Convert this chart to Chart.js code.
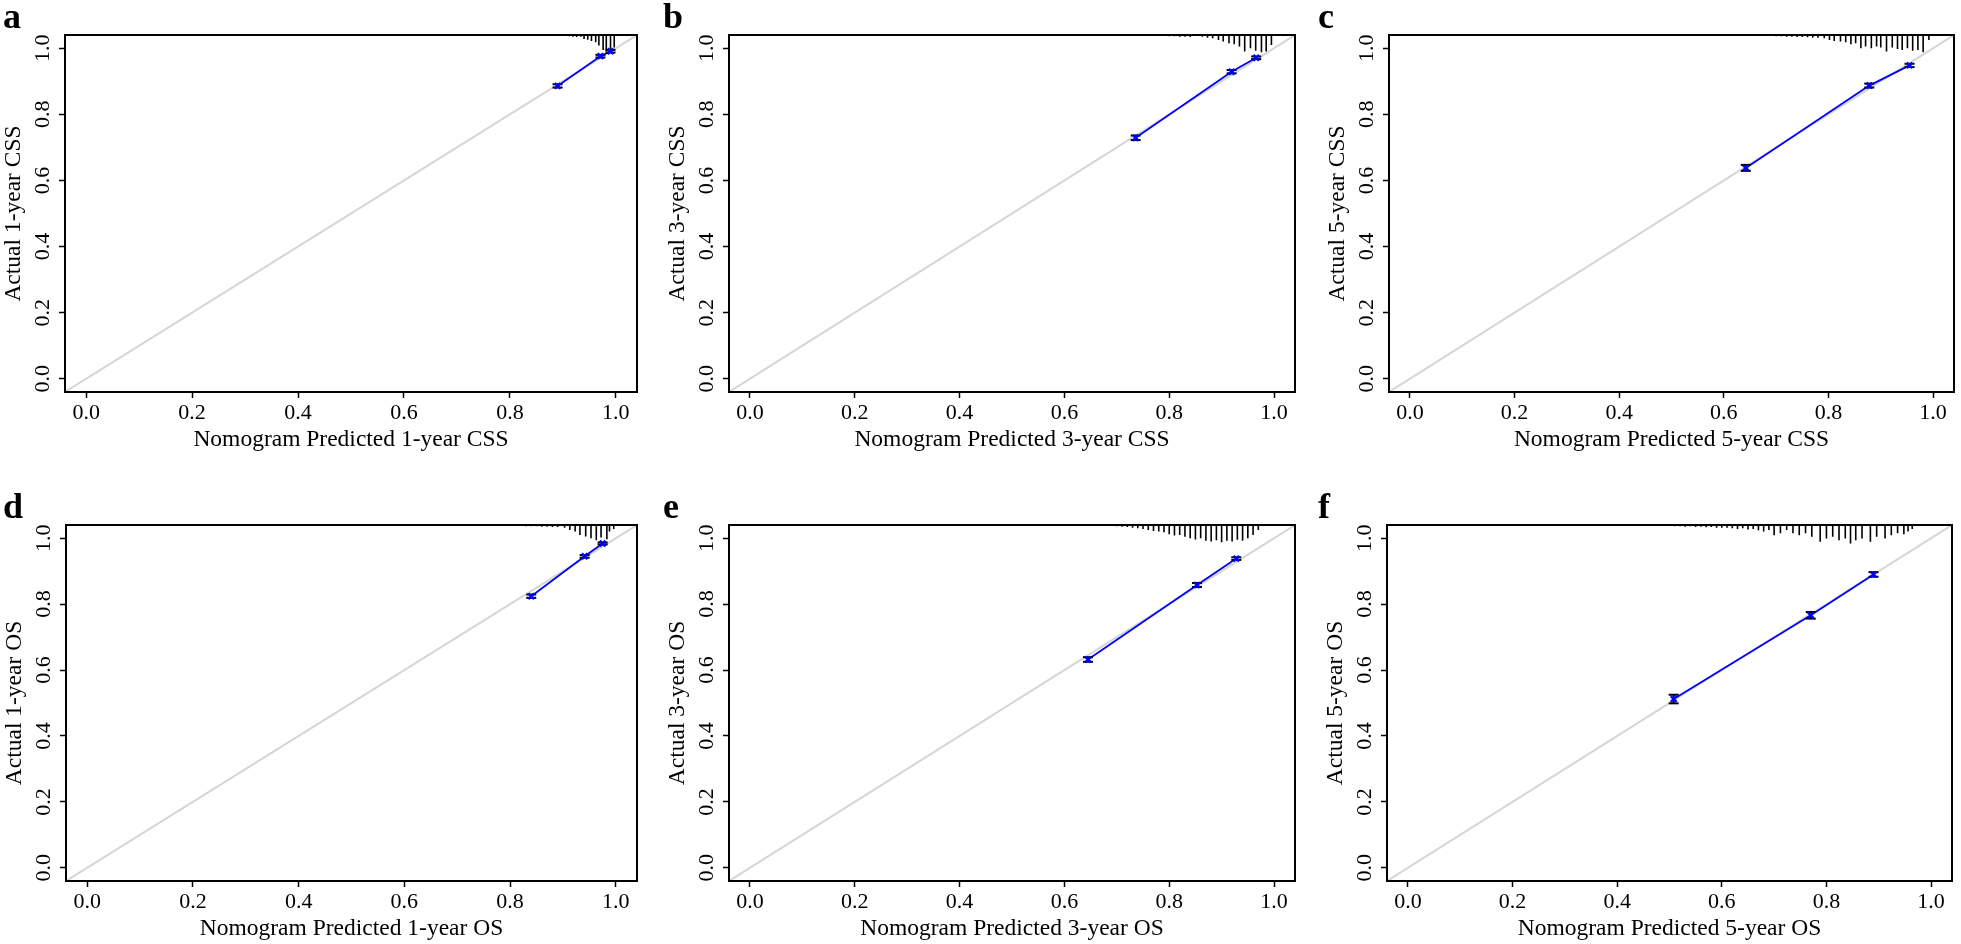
<!DOCTYPE html>
<html>
<head>
<meta charset="utf-8">
<script src="https://cdn.jsdelivr.net/npm/chart.js@4.4.1/dist/chart.umd.min.js"></script>
<style>
  html, body { margin: 0; padding: 0; background: #fff; }
  body { width: 1961px; height: 944px; position: relative; overflow: hidden;
         font-family: "Liberation Serif", "Times New Roman", serif; }
  canvas { position: absolute; }
  .tag { position: absolute; font-weight: bold; font-size: 36px; line-height: 36px; color: #000; }
</style>
</head>
<body>
<script>
// axis
const tickValues = [0.0, 0.2, 0.4, 0.6, 0.8, 1.0];
const axisRange = [-0.04, 1.04];
const panelLetters = ['a', 'b', 'c', 'd', 'e', 'f'];
const xTitles = ['Nomogram Predicted 1-year CSS', 'Nomogram Predicted 3-year CSS', 'Nomogram Predicted 5-year CSS',
                 'Nomogram Predicted 1-year OS', 'Nomogram Predicted 3-year OS', 'Nomogram Predicted 5-year OS'];
const yTitles = ['Actual 1-year CSS', 'Actual 3-year CSS', 'Actual 5-year CSS',
                 'Actual 1-year OS', 'Actual 3-year OS', 'Actual 5-year OS'];

// calibration points (predicted, observed, half error bar)
const predA = [0.890, 0.971, 0.990];
const actualA = [0.886, 0.976, 0.991];
const errA = [0.005, 0.004, 0.004];

const predB = [0.736, 0.919, 0.966];
const actualB = [0.729, 0.929, 0.971];
const errB = [0.007, 0.005, 0.004];

const predC = [0.642, 0.878, 0.955];
const actualC = [0.638, 0.887, 0.948];
const errC = [0.009, 0.006, 0.005];

const predD = [0.840, 0.941, 0.975];
const actualD = [0.824, 0.945, 0.984];
const errD = [0.005, 0.004, 0.003];

const predE = [0.645, 0.853, 0.928];
const actualE = [0.632, 0.858, 0.938];
const errE = [0.007, 0.006, 0.004];

const predF = [0.508, 0.770, 0.890];
const actualF = [0.512, 0.766, 0.890];
const errF = [0.013, 0.010, 0.007];

// spike histogram along the top (position, length)
const rugXA = [0.876,0.884,0.890,0.897,0.904,0.912,0.919,0.926,0.934,0.940,0.947,0.954,0.962,0.968,0.976,0.982,0.990,0.997];
const rugLenA = [0.002,0.002,0.003,0.003,0.003,0.004,0.005,0.006,0.005,0.012,0.014,0.018,0.022,0.032,0.045,0.050,0.048,0.038];

const rugXB = [0.50,0.51,0.52,0.53,0.54,0.55,0.56,0.57,0.58,0.59,0.60,0.61,0.62,0.63,0.64,0.65,0.66,0.67,0.68,0.69,
               0.70,0.71,0.72,0.73,0.74,0.75,0.76,0.77,0.78,0.79,0.80,0.81,0.82,0.83,0.84,
               0.851,0.863,0.873,0.883,0.894,0.903,0.914,0.924,0.934,0.944,0.955,0.965,0.976,0.985,0.995];
const rugLenB = [0.002,0.002,0.002,0.002,0.002,0.002,0.002,0.002,0.002,0.002,0.002,0.002,0.002,0.002,0.002,0.002,0.002,0.002,0.002,0.002,
                 0.003,0.003,0.003,0.003,0.003,0.003,0.003,0.003,0.003,0.003,0.004,0.004,0.005,0.005,0.006,
                 0.003,0.005,0.008,0.010,0.015,0.020,0.025,0.028,0.035,0.050,0.040,0.048,0.052,0.050,0.030];

const rugXC = [0.40,0.41,0.42,0.43,0.44,0.45,0.46,0.47,0.48,0.49,0.50,0.51,0.52,0.53,0.54,0.55,0.56,0.57,0.58,0.59,
               0.60,0.61,0.62,0.63,0.64,0.65,0.66,0.67,0.68,0.69,0.70,0.71,0.72,0.73,0.74,0.75,0.76,0.77,0.78,
               0.792,0.802,0.811,0.823,0.833,0.843,0.852,0.862,0.871,0.882,0.892,0.900,0.911,0.922,0.932,0.941,0.951,0.961,0.971,0.981,0.992];
const rugLenC = [0.002,0.002,0.002,0.002,0.002,0.002,0.002,0.002,0.002,0.002,0.002,0.002,0.002,0.002,0.002,0.002,0.002,0.002,0.002,0.002,
                 0.003,0.003,0.003,0.003,0.003,0.003,0.003,0.003,0.003,0.003,0.004,0.004,0.005,0.005,0.006,0.006,0.007,0.008,0.008,
                 0.010,0.015,0.018,0.020,0.022,0.028,0.025,0.040,0.035,0.040,0.035,0.038,0.050,0.038,0.042,0.045,0.040,0.048,0.045,0.052,0.015];

const rugXD = [0.80,0.81,0.82,0.83,0.84,0.85,0.86,0.87,0.88,0.89,
               0.903,0.913,0.923,0.932,0.943,0.953,0.963,0.972,0.983,0.988,0.996];
const rugLenD = [0.003,0.003,0.003,0.004,0.004,0.004,0.005,0.005,0.006,0.006,
                 0.008,0.015,0.020,0.030,0.035,0.040,0.046,0.038,0.043,0.020,0.012];

const rugXE = [0.45,0.46,0.47,0.48,0.49,0.50,0.51,0.52,0.53,0.54,0.55,0.56,0.57,0.58,0.59,0.60,0.61,0.62,0.63,0.64,
               0.65,0.66,0.67,0.68,0.69,0.70,0.71,0.72,0.73,0.74,0.75,0.76,0.77,0.78,0.79,0.80,0.81,0.82,0.83,0.84,
               0.85,0.86,0.87,0.88,0.89,0.90,0.91,0.92,0.93,0.94,0.95,0.96,0.97];
const rugLenE = [0.002,0.002,0.002,0.002,0.002,0.002,0.002,0.002,0.002,0.002,0.002,0.002,0.002,0.002,0.002,0.003,0.003,0.003,0.003,0.003,
                 0.003,0.003,0.003,0.003,0.003,0.004,0.005,0.006,0.008,0.010,0.012,0.015,0.018,0.020,0.022,0.028,0.032,0.030,0.036,0.040,
                 0.044,0.040,0.048,0.050,0.046,0.052,0.048,0.050,0.045,0.048,0.040,0.030,0.015];

const rugXF = [0.02,0.04,0.06,0.08,0.10,0.12,0.14,0.16,0.18,0.20,0.22,0.24,0.26,0.28,0.30,0.32,0.34,0.36,0.38,0.40,
               0.42,0.44,0.46,0.48,0.50,0.51,0.52,0.53,0.54,0.55,0.56,0.57,0.58,0.59,0.60,
               0.61,0.62,0.63,0.64,0.65,0.66,0.67,0.68,0.69,
               0.700,0.712,0.724,0.736,0.748,0.760,0.772,0.788,0.800,0.812,0.824,0.836,0.846,0.856,0.868,0.884,
               0.896,0.912,0.924,0.936,0.948,0.956,0.964];
const rugLenF = [0.002,0.002,0.002,0.002,0.002,0.002,0.002,0.002,0.002,0.002,0.002,0.002,0.002,0.002,0.002,0.002,0.002,0.002,0.002,0.002,
                 0.002,0.002,0.003,0.003,0.003,0.004,0.004,0.005,0.004,0.006,0.005,0.007,0.006,0.008,0.008,
                 0.008,0.010,0.012,0.010,0.014,0.012,0.016,0.020,0.015,
                 0.031,0.025,0.015,0.025,0.031,0.025,0.036,0.051,0.041,0.036,0.046,0.041,0.056,0.046,0.041,0.051,
                 0.036,0.041,0.031,0.025,0.028,0.020,0.012];

const panels = [
  {pred: predA, actual: actualA, err: errA, rugX: rugXA, rugLen: rugLenA},
  {pred: predB, actual: actualB, err: errB, rugX: rugXB, rugLen: rugLenB},
  {pred: predC, actual: actualC, err: errC, rugX: rugXC, rugLen: rugLenC},
  {pred: predD, actual: actualD, err: errD, rugX: rugXD, rugLen: rugLenD},
  {pred: predE, actual: actualE, err: errE, rugX: rugXE, rugLen: rugLenE},
  {pred: predF, actual: actualF, err: errF, rugX: rugXF, rugLen: rugLenF}
];

// plot boxes on the page (left, top, right, bottom)
const boxes = [
  [65, 35, 640, 392], [729, 35, 1298, 392], [1389, 35, 1957, 392],
  [66, 525, 640, 881], [729, 525, 1298, 881], [1387, 525, 1955, 881]
];
const tagPos = [[3, -2], [663, -2], [1318, -2], [3, 488], [663, 488], [1318, 488]];
const AXIS_W = 65;
const AXIS_H = 78;
const TOP_PAD = 35;
const RIGHT_PAD = 4;
const FONT = '"Liberation Serif", "Times New Roman", serif';

const framePlugin = {
  id: 'frame',
  afterDraw(chart) {
    const a = chart.chartArea;
    const ctx = chart.ctx;
    ctx.save();
    ctx.strokeStyle = '#000';
    ctx.lineWidth = 2;
    ctx.strokeRect(a.left, a.top, a.right - a.left, a.bottom - a.top);
    ctx.restore();
  }
};

function axisOptions(isX, title) {
  return {
    type: 'linear',
    min: axisRange[0],
    max: axisRange[1],
    afterBuildTicks: s => { s.ticks = tickValues.map(v => ({value: v})); },
    afterFit: s => { if (isX) s.height = AXIS_H; else s.width = AXIS_W; },
    border: {display: false},
    grid: {display: true, drawOnChartArea: false, drawTicks: true, tickLength: 6, tickColor: '#000', tickWidth: 1.5},
    ticks: {
      color: '#000',
      font: {family: FONT, size: 22},
      padding: 2,
      autoSkip: false,
      minRotation: isX ? 0 : 90,
      maxRotation: isX ? 0 : 90,
      crossAlign: isX ? 'near' : 'center',
      callback: v => Number(v).toFixed(1)
    },
    title: {
      display: true,
      text: title,
      color: '#000',
      font: {family: FONT, size: 23.5},
      padding: isX ? {top: 0, bottom: 16} : {top: 0, bottom: 0}
    }
  };
}

function makePanel(i) {
  let p = panels[i];
  let [l, t, r, b] = boxes[i];
  let canvas = document.createElement('canvas');
  let w = (r - l) + AXIS_W + RIGHT_PAD;
  let h = (b - t) + TOP_PAD + AXIS_H;
  canvas.width = w;
  canvas.height = h;
  canvas.style.left = (l - AXIS_W) + 'px';
  canvas.style.top = (t - TOP_PAD) + 'px';
  canvas.style.width = w + 'px';
  canvas.style.height = h + 'px';
  document.body.appendChild(canvas);

  let tag = document.createElement('div');
  tag.className = 'tag';
  tag.textContent = panelLetters[i];
  tag.style.left = tagPos[i][0] + 'px';
  tag.style.top = tagPos[i][1] + 'px';
  document.body.appendChild(tag);

  let ideal = axisRange.map(v => ({x: v, y: v}));
  let rug = [];
  p.rugX.forEach((x, k) => {
    rug.push({x: x, y: axisRange[1]});
    rug.push({x: x, y: axisRange[1] - p.rugLen[k]});
    rug.push({x: x, y: null});
  });
  let points = p.pred.map((x, k) => ({x: x, y: p.actual[k]}));
  let bars = [];
  p.pred.forEach((x, k) => {
    bars.push({x: x, y: p.actual[k] - p.err[k]});
    bars.push({x: x, y: p.actual[k] + p.err[k]});
    bars.push({x: x, y: null});
  });

  new Chart(canvas, {
    type: 'scatter',
    data: {
      datasets: [
        {data: ideal, showLine: true, borderColor: '#d6d6d6', borderWidth: 2, pointRadius: 0, order: 5},
        {data: rug, showLine: true, spanGaps: false, borderColor: '#000', borderWidth: 1.6, pointRadius: 0, order: 4, clip: false},
        {data: points, showLine: true, borderColor: '#0000ff', borderWidth: 1.8, pointRadius: 0, order: 3},
        {data: bars, showLine: true, spanGaps: false, borderColor: '#000', borderWidth: 1.5,
         pointStyle: 'line', pointRadius: 5, pointBorderWidth: 2, pointBorderColor: '#000', order: 2},
        {data: points, showLine: false, pointStyle: 'crossRot', pointRadius: 4,
         pointBorderWidth: 2.5, pointBorderColor: '#0000ff', pointBackgroundColor: '#0000ff', order: 1}
      ]
    },
    options: {
      responsive: false,
      animation: false,
      devicePixelRatio: 1,
      layout: {padding: {top: TOP_PAD, right: RIGHT_PAD, left: 0, bottom: 0}},
      plugins: {legend: {display: false}, tooltip: {enabled: false}},
      scales: {
        x: axisOptions(true, xTitles[i]),
        y: axisOptions(false, yTitles[i])
      }
    },
    plugins: [framePlugin]
  });
}

for (let i = 0; i < panels.length; i++) makePanel(i);
</script>
</body>
</html>
